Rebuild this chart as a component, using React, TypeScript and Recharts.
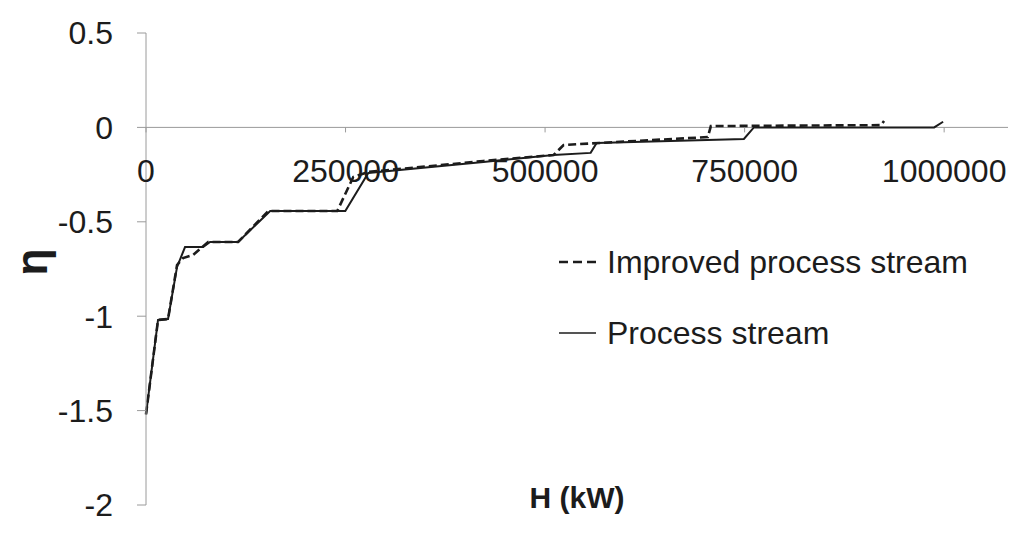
import {
  LineChart,
  Line,
  XAxis,
  YAxis,
  ReferenceLine,
  ReferenceDot,
  Legend,
} from 'recharts';

// Enthalpy (kW) and efficiency readings for each stream
const processH = [
  0, 15060, 27600, 38900, 48900, 71500, 80300, 115400, 155600, 249700, 278500,
  422800, 510700, 557100, 564600, 749100, 761600, 987500, 998700,
];
const processEta = [
  -1.52, -1.02, -1.015, -0.739, -0.634, -0.634, -0.607, -0.607, -0.443, -0.443,
  -0.241, -0.183, -0.146, -0.135, -0.082, -0.061, 0.0, 0.0, 0.03,
];

const improvedH = [
  0, 15060, 27600, 38900, 46400, 59000, 77800, 115400, 153100, 239600, 259700,
  278500, 422800, 510700, 523200, 703900, 707700, 920900, 924700,
];
const improvedEta = [
  -1.52, -1.02, -1.015, -0.729, -0.692, -0.676, -0.607, -0.607, -0.443, -0.443,
  -0.263, -0.236, -0.178, -0.146, -0.093, -0.051, 0.007, 0.012, 0.034,
];

const xTicks = [0, 250000, 500000, 750000, 1000000];
const yTicks = [0.5, 0, -0.5, -1, -1.5, -2];

const FONT = '"Liberation Sans", Arial, sans-serif';
const AXIS_GREY = '#9a9a9a';

const processData = processH.map((h, i) => ({ h, eta: processEta[i] }));
const improvedData = improvedH.map((h, i) => ({ h, eta: improvedEta[i] }));

// x tick mark + label sitting on the eta = 0 line
const ZeroAxisTick = ({ cx, cy, value }: { cx?: number; cy?: number; value: number }) => {
  if (cx == null || cy == null) return <g />;
  return (
    <g>
      <line x1={cx} y1={cy} x2={cx} y2={cy + 5} stroke={AXIS_GREY} strokeWidth={1} />
      <text
        x={cx}
        y={cy + 43}
        dy="0.35em"
        textAnchor="middle"
        fontFamily={FONT}
        fontSize={32}
        fill="#1c1c1c"
      >
        {value}
      </text>
    </g>
  );
};

const EtaLabel = ({ viewBox }: any) => {
  const cy = viewBox.y + viewBox.height / 2 - 7;
  return (
    <text
      x={32}
      y={cy}
      dy="0.35em"
      textAnchor="middle"
      transform={`rotate(-90, 32, ${cy})`}
      fontFamily={FONT}
      fontWeight="bold"
      fontSize={44}
      fill="#1c1c1c"
    >
      η
    </text>
  );
};

const StreamLegend = () => (
  <div style={{ fontFamily: FONT, fontSize: 32, color: '#1c1c1c' }}>
    {[
      { name: 'Improved process stream', dash: '9 5' },
      { name: 'Process stream', dash: undefined },
    ].map((item, i) => (
      <div
        key={item.name}
        style={{ display: 'flex', alignItems: 'center', height: 44, marginBottom: i === 0 ? 27 : 0 }}
      >
        <svg width={40} height={10} style={{ marginRight: 9 }}>
          <line
            x1={1}
            y1={5}
            x2={38}
            y2={5}
            stroke="#1c1c1c"
            strokeWidth={item.dash ? 2.5 : 1.6}
            strokeDasharray={item.dash}
          />
        </svg>
        <span style={{ whiteSpace: 'nowrap' }}>{item.name}</span>
      </div>
    ))}
  </div>
);

export default function App() {
  return (
    <div style={{ position: 'absolute', left: 0, top: 0, width: 1014, height: 542, background: '#fff' }}>
      <LineChart
        width={1014}
        height={542}
        margin={{ top: 33, right: 6, bottom: 0, left: 0 }}
      >
        <XAxis
          type="number"
          dataKey="h"
          domain={[0, 1080000]}
          ticks={xTicks}
          tick={false}
          tickLine={false}
          axisLine={false}
          height={37}
          label={{
            value: 'H (kW)',
            position: 'center',
            dy: -26,
            fontFamily: FONT,
            fontWeight: 'bold',
            fontSize: 30,
            fill: '#1c1c1c',
          }}
        />
        <YAxis
          type="number"
          dataKey="eta"
          domain={[-2, 0.5]}
          ticks={yTicks}
          width={146}
          interval={0}
          tickSize={9}
          tickMargin={24}
          stroke={AXIS_GREY}
          tick={{ fontFamily: FONT, fontSize: 32, fill: '#1c1c1c' }}
          label={<EtaLabel />}
        />
        <ReferenceLine y={0} stroke={AXIS_GREY} strokeWidth={1} />
        {xTicks.map((t) => (
          <ReferenceDot
            key={t}
            x={t}
            y={0}
            r={0}
            shape={(p: any) => <ZeroAxisTick cx={p.cx} cy={p.cy} value={t} />}
          />
        ))}
        <Line
          data={improvedData}
          dataKey="eta"
          name="Improved process stream"
          type="linear"
          stroke="#1c1c1c"
          strokeWidth={2.6}
          strokeDasharray="8 4"
          dot={false}
          isAnimationActive={false}
        />
        <Line
          data={processData}
          dataKey="eta"
          name="Process stream"
          type="linear"
          stroke="#1c1c1c"
          strokeWidth={2}
          dot={false}
          isAnimationActive={false}
        />
        <Legend
          layout="vertical"
          align="center"
          verticalAlign="middle"
          content={<StreamLegend />}
          wrapperStyle={{ left: 558, top: 240, width: 440 }}
        />
      </LineChart>
    </div>
  );
}
